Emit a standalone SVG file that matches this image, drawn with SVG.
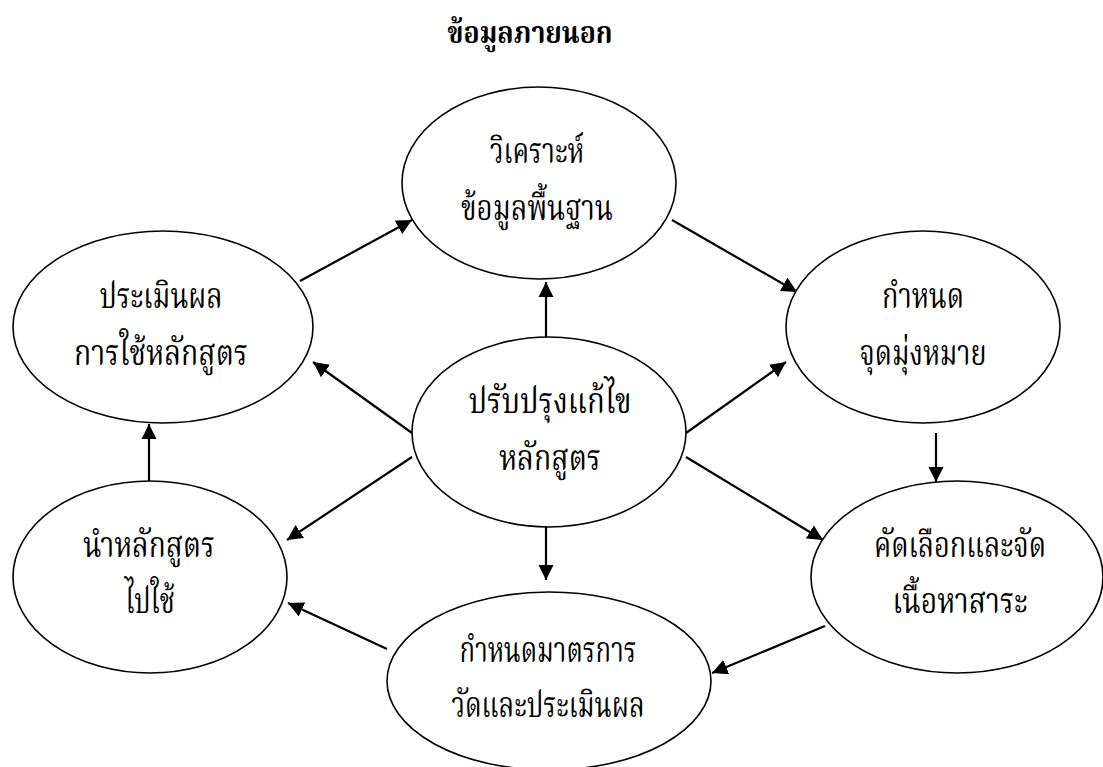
<svg xmlns="http://www.w3.org/2000/svg" width="1103" height="767" viewBox="0 0 1103 767">
<defs>
<marker id="arr" viewBox="0 0 10 10" refX="10" refY="5" markerWidth="7" markerHeight="7" markerUnits="strokeWidth" orient="auto">
<path d="M0,0 L10,5 L0,10 z" fill="#000"/>
</marker>
<style>
.n ellipse{fill:#fff;stroke:#000;stroke-width:1.6}
.n text{font-family:"Liberation Serif","Noto Serif Thai","Noto Sans Thai",serif;font-size:35px;text-anchor:middle;fill:#000}
.t{font-family:"Liberation Serif","Noto Serif Thai","Noto Sans Thai",serif;font-size:30px;font-weight:bold;text-anchor:middle;fill:#000}
#edges line{stroke:#000;stroke-width:2.2;marker-end:url(#arr)}
</style>
</defs>
<rect width="1103" height="767" fill="#fff"/>
<text class="t" x="530" y="43" textLength="165" lengthAdjust="spacingAndGlyphs">ข้อมูลภายนอก</text>
<g id="edges">
<line x1="300" y1="281" x2="412" y2="220"/>
<line x1="672" y1="220" x2="797" y2="292"/>
<line x1="546" y1="337" x2="546" y2="282"/>
<line x1="412" y1="433" x2="313" y2="362"/>
<line x1="686" y1="433" x2="786" y2="362"/>
<line x1="412" y1="457" x2="287" y2="540"/>
<line x1="686" y1="457" x2="823" y2="540"/>
<line x1="546" y1="527" x2="546" y2="580"/>
<line x1="936" y1="433" x2="936" y2="482"/>
<line x1="149" y1="481" x2="149" y2="424"/>
<line x1="825" y1="626" x2="712" y2="673"/>
<line x1="387" y1="649" x2="288" y2="603"/>
</g>
<g id="n-analyze" class="n">
<ellipse cx="539" cy="183" rx="137" ry="96"/>
<text x="537" y="163" textLength="94" lengthAdjust="spacingAndGlyphs">วิเคราะห์</text>
<text x="537" y="220" textLength="152" lengthAdjust="spacingAndGlyphs">ข้อมูลพื้นฐาน</text>
</g>
<g id="n-evaluate" class="n">
<ellipse cx="163" cy="327" rx="150" ry="96"/>
<text x="161" y="308" textLength="123" lengthAdjust="spacingAndGlyphs">ประเมินผล</text>
<text x="161" y="365" textLength="174" lengthAdjust="spacingAndGlyphs">การใช้หลักสูตร</text>
</g>
<g id="n-goal" class="n">
<ellipse cx="923" cy="327" rx="137" ry="96"/>
<text x="923" y="308" textLength="82" lengthAdjust="spacingAndGlyphs">กำหนด</text>
<text x="923" y="365" textLength="127" lengthAdjust="spacingAndGlyphs">จุดมุ่งหมาย</text>
</g>
<g id="n-improve" class="n">
<ellipse cx="549" cy="432" rx="137" ry="95"/>
<text x="550" y="413" textLength="163" lengthAdjust="spacingAndGlyphs">ปรับปรุงแก้ไข</text>
<text x="550" y="470" textLength="102" lengthAdjust="spacingAndGlyphs">หลักสูตร</text>
</g>
<g id="n-implement" class="n">
<ellipse cx="150" cy="577" rx="137" ry="96"/>
<text x="149" y="557" textLength="132" lengthAdjust="spacingAndGlyphs">นำหลักสูตร</text>
<text x="150" y="613" textLength="50" lengthAdjust="spacingAndGlyphs">ไปใช้</text>
</g>
<g id="n-content" class="n">
<ellipse cx="957" cy="577" rx="146" ry="96"/>
<text x="960" y="557" textLength="172" lengthAdjust="spacingAndGlyphs">คัดเลือกและจัด</text>
<text x="960" y="613" textLength="135" lengthAdjust="spacingAndGlyphs">เนื้อหาสาระ</text>
</g>
<g id="n-measure" class="n">
<ellipse cx="549" cy="681" rx="162" ry="89"/>
<text x="548" y="662" textLength="177" lengthAdjust="spacingAndGlyphs">กำหนดมาตรการ</text>
<text x="548" y="717" textLength="193" lengthAdjust="spacingAndGlyphs">วัดและประเมินผล</text>
</g>
</svg>
